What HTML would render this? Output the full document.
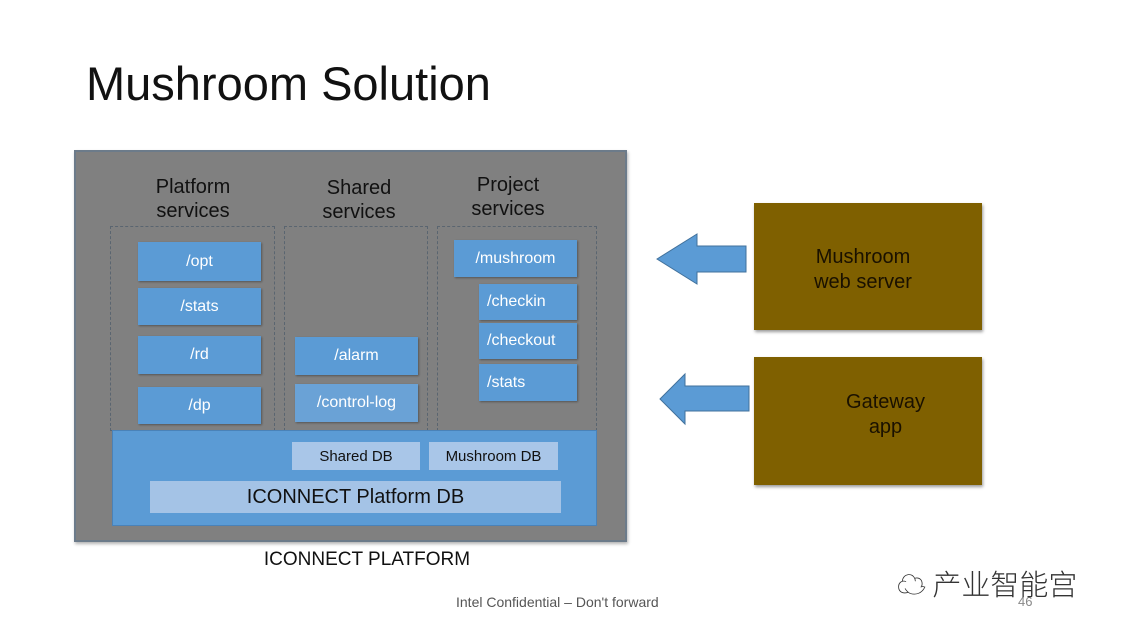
<!DOCTYPE html>
<html><head><meta charset="utf-8"><style>
body{margin:0;width:1122px;height:632px;background:#fff;position:relative;overflow:hidden;font-family:"Liberation Sans","Noto Sans CJK SC",sans-serif}
div{position:absolute;box-sizing:border-box}
.b{background:#5b9bd5;color:#fff;font-size:16px;display:flex;align-items:center;justify-content:center;box-shadow:1px 1px 2px rgba(0,0,0,.35)}
.l{justify-content:flex-start;padding-left:8px}
.h{color:#111;font-size:20px;text-align:center;line-height:24px}
.d{border:1px dashed #5a6570}
.br{background:#7f6000;color:#1a1100;font-size:20px;text-align:center;line-height:25px;box-shadow:1px 2px 3px rgba(0,0,0,.4)}
.db{background:#a9c6e8;color:#111;display:flex;align-items:center;justify-content:center}
</style></head><body>
<div style="left:86px;top:57px;font-size:47px;color:#111;line-height:54px">Mushroom Solution</div>
<div style="left:74px;top:150px;width:553px;height:392px;background:#808080;border:2px solid #6c7b8a;box-shadow:1px 2px 3px rgba(0,0,0,.3)"></div>
<div class="h" style="left:128px;top:175px;width:130px">Platform<br>services</div>
<div class="h" style="left:294px;top:176px;width:130px">Shared<br>services</div>
<div class="h" style="left:443px;top:173px;width:130px">Project<br>services</div>
<div class="d" style="left:110px;top:226px;width:165px;height:205px"></div>
<div class="d" style="left:284px;top:226px;width:144px;height:205px"></div>
<div class="d" style="left:437px;top:226px;width:160px;height:205px"></div>
<div class="b" style="left:138px;top:242px;width:123px;height:39px">/opt</div>
<div class="b" style="left:138px;top:288px;width:123px;height:37px">/stats</div>
<div class="b" style="left:138px;top:336px;width:123px;height:38px">/rd</div>
<div class="b" style="left:138px;top:387px;width:123px;height:37px">/dp</div>
<div class="b" style="left:295px;top:337px;width:123px;height:38px">/alarm</div>
<div class="b" style="left:295px;top:384px;width:123px;height:38px;background:#6aa2d6">/control-log</div>
<div class="b" style="left:454px;top:240px;width:123px;height:37px">/mushroom</div>
<div class="b l" style="left:479px;top:284px;width:98px;height:36px">/checkin</div>
<div class="b l" style="left:479px;top:323px;width:98px;height:36px">/checkout</div>
<div class="b l" style="left:479px;top:364px;width:98px;height:37px">/stats</div>
<div style="left:112px;top:430px;width:485px;height:96px;background:#5b9bd5;border:1px solid #4a82b8"></div>
<div class="db" style="left:292px;top:442px;width:128px;height:28px;font-size:15px">Shared DB</div>
<div class="db" style="left:429px;top:442px;width:129px;height:28px;font-size:15px">Mushroom DB</div>
<div class="db" style="left:150px;top:481px;width:411px;height:32px;font-size:20px;background:#a4c3e6">ICONNECT Platform DB</div>
<div style="left:200px;top:549px;width:334px;text-align:center;font-size:19px;color:#111">ICONNECT PLATFORM</div>
<svg style="position:absolute;left:0;top:0" width="1122" height="632">
<polygon points="657,259 697,234 697,246 746,246 746,272 697,272 697,284" fill="#5b9bd5" stroke="#41719c" stroke-width="1"/>
<polygon points="660,399 685,374 685,386 749,386 749,411 685,411 685,424" fill="#5b9bd5" stroke="#41719c" stroke-width="1"/>
</svg>
<div class="br" style="left:754px;top:203px;width:228px;height:127px;padding-top:42px;padding-right:10px">Mushroom<br>web server</div>
<div class="br" style="left:754px;top:357px;width:228px;height:128px;padding-top:33px;padding-left:35px">Gateway<br>app</div>
<div style="left:456px;top:594px;font-size:14px;color:#555">Intel Confidential – Don't forward</div>
<div style="left:1018px;top:594px;font-size:13px;color:#888">46</div>
<div style="left:897px;top:562px;font-size:29px;color:#333;font-family:'Noto Sans CJK SC',sans-serif;font-weight:300">☁ 产业智能宫</div>
</body></html>
